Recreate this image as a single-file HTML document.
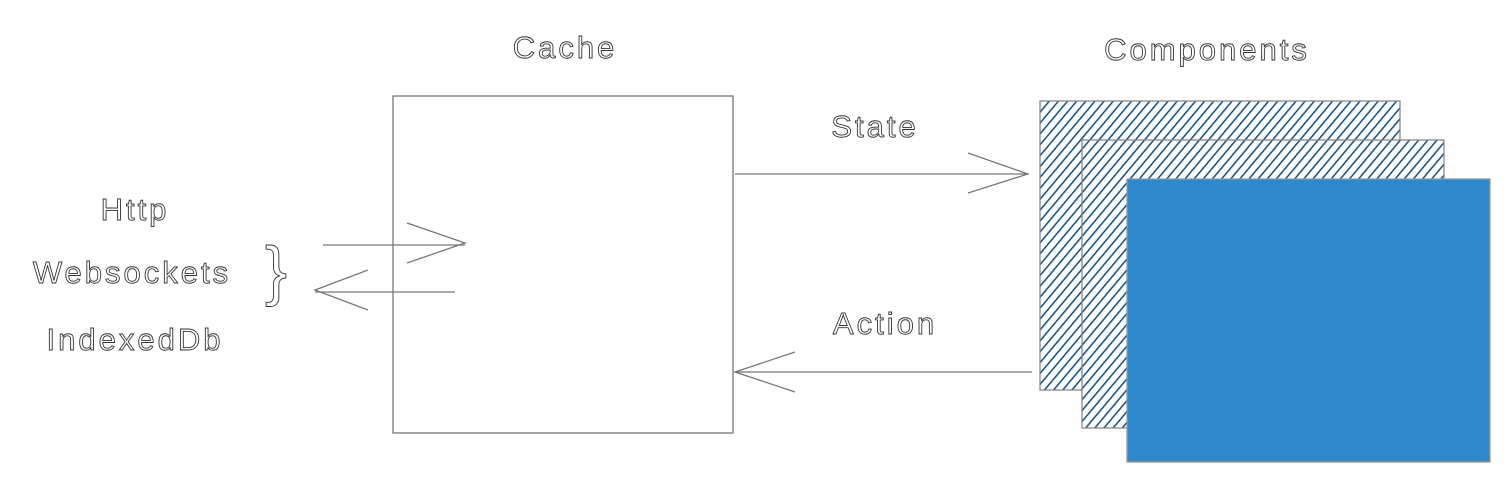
<!DOCTYPE html>
<html><head><meta charset="utf-8"><style>
html,body{margin:0;padding:0;background:#fff;}
svg{display:block;}
.lbl{font-family:"Liberation Sans",sans-serif;fill:#fff;stroke:#333;stroke-width:0.9px;font-size:31px;letter-spacing:3px;}
.ln{stroke:#777;stroke-width:1.3;fill:none;}
</style></head><body>
<svg width="1508" height="484" viewBox="0 0 1508 484">
<defs>
<pattern id="hatch" width="7" height="7" patternUnits="userSpaceOnUse" patternTransform="rotate(40)">
<rect width="7" height="7" fill="#fff"/>
<line x1="0" y1="0" x2="0" y2="7" stroke="#1a5686" stroke-width="3.2"/>
</pattern>
</defs>
<text class="lbl" x="565" y="58" text-anchor="middle">Cache</text>
<rect class="ln" x="393" y="96" width="340" height="337"/>
<text class="lbl" x="1207" y="60" text-anchor="middle">Components</text>
<rect x="1040" y="101" width="360" height="289" fill="url(#hatch)" stroke="#888" stroke-width="1.3"/>
<rect x="1082" y="140" width="362" height="288" fill="url(#hatch)" stroke="#888" stroke-width="1.3"/>
<rect x="1127" y="179" width="363" height="283" fill="#2d88cc" stroke="#999" stroke-width="1.3"/>
<text class="lbl" x="875" y="137" text-anchor="middle">State</text>
<g>
<line class="ln" x1="735" y1="174" x2="1028" y2="174"/>
<polyline class="ln" points="968,153 1028,174 968,193"/>
</g>
<text class="lbl" x="885" y="334" text-anchor="middle">Action</text>
<g>
<line class="ln" x1="1032" y1="372" x2="735" y2="372"/>
<polyline class="ln" points="795,352 735,372 795,392"/>
</g>
<text class="lbl" x="135" y="220" text-anchor="middle">Http</text>
<text class="lbl" x="132" y="283" text-anchor="middle">Websockets</text>
<text class="lbl" x="135" y="350" text-anchor="middle">IndexedDb</text>
<text class="lbl" x="276" y="293" text-anchor="middle" style="font-size:66px;letter-spacing:0">}</text>
<g>
<line class="ln" x1="323" y1="245" x2="465" y2="245"/>
<polyline class="ln" points="407,223 465,243 407,263"/>
</g>
<g>
<line class="ln" x1="455" y1="292" x2="315" y2="292"/>
<polyline class="ln" points="368,270 315,290 368,310"/>
</g>
</svg>
</body></html>
